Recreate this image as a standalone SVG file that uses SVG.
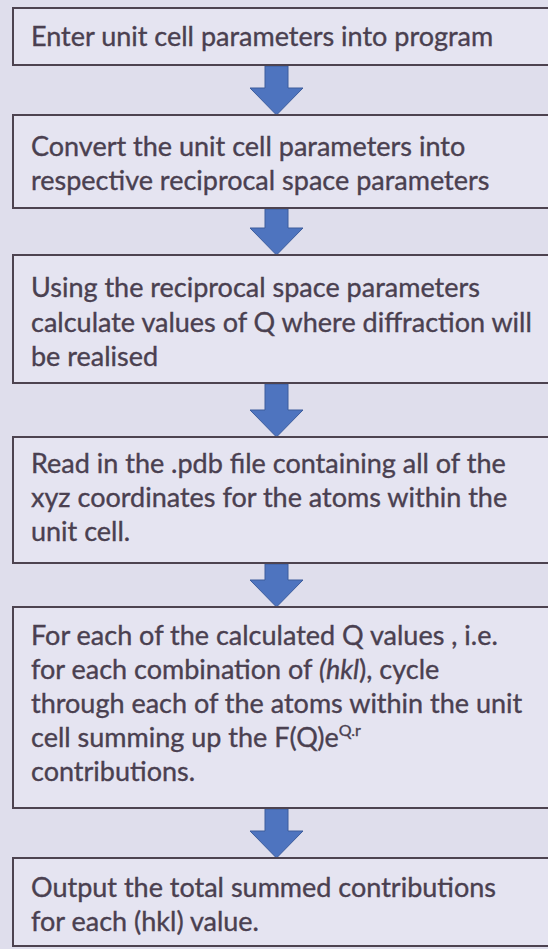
<svg xmlns="http://www.w3.org/2000/svg" width="548" height="949" viewBox="0 0 548 949">
<style>
.box{fill:#e5e4f1;stroke:#4d4350;stroke-width:2}
.t{font-family:Lato,"Open Sans",sans-serif;font-size:27px;fill:#4a4050;stroke:#4a4050;stroke-width:0.35}
.arr{fill:#4e74bf;stroke:#3c5c9c;stroke-width:1}
</style>
<rect x="0" y="0" width="548" height="949" fill="#dfdeec"/>
<g id="connectors">
<path class="arr" d="M265 66 H288 V88 H303 L276.5 115 L250 88 H265 Z"/>
<path class="arr" d="M265 209 H288 V228 H303 L276.5 255 L250 228 H265 Z"/>
<path class="arr" d="M265 384 H288 V410 H303 L276.5 437 L250 410 H265 Z"/>
<path class="arr" d="M265 564 H288 V580 H303 L276.5 607 L250 580 H265 Z"/>
<path class="arr" d="M265 809 H288 V831 H303 L276.5 858 L250 831 H265 Z"/>
</g>
<g id="n1">
<rect class="box" x="13" y="8" width="560" height="57"/>
<text class="t" x="31" y="46">Enter unit cell parameters into program</text>
</g>
<g id="n2">
<rect class="box" x="13" y="115" width="560" height="93"/>
<text class="t" x="31" y="156">Convert the unit cell parameters into</text>
<text class="t" x="31" y="190">respective reciprocal space parameters</text>
</g>
<g id="n3">
<rect class="box" x="13" y="255" width="560" height="128"/>
<text class="t" x="31" y="297">Using the reciprocal space parameters</text>
<text class="t" x="31" y="332">calculate values of Q where diffraction will</text>
<text class="t" x="31" y="366">be realised</text>
</g>
<g id="n4">
<rect class="box" x="13" y="437" width="560" height="126"/>
<text class="t" x="31" y="473">Read in the .pdb file containing all of the</text>
<text class="t" x="31" y="507">xyz coordinates for the atoms within the</text>
<text class="t" x="31" y="541">unit cell.</text>
</g>
<g id="n5">
<rect class="box" x="13" y="607" width="560" height="201"/>
<text class="t" x="31" y="645">For each of the calculated Q values , i.e.</text>
<text class="t" x="31" y="679">for each combination of <tspan font-style="italic">(hkl</tspan>), cycle</text>
<text class="t" x="31" y="713">through each of the atoms within the unit</text>
<text class="t" x="31" y="747">cell summing up the F(Q)e<tspan font-size="16" dy="-11">Q.r</tspan></text>
<text class="t" x="31" y="781">contributions.</text>
</g>
<g id="n6">
<rect class="box" x="13" y="858" width="560" height="88"/>
<text class="t" x="31" y="897">Output the total summed contributions</text>
<text class="t" x="31" y="931">for each (hkl) value.</text>
</g>
</svg>
